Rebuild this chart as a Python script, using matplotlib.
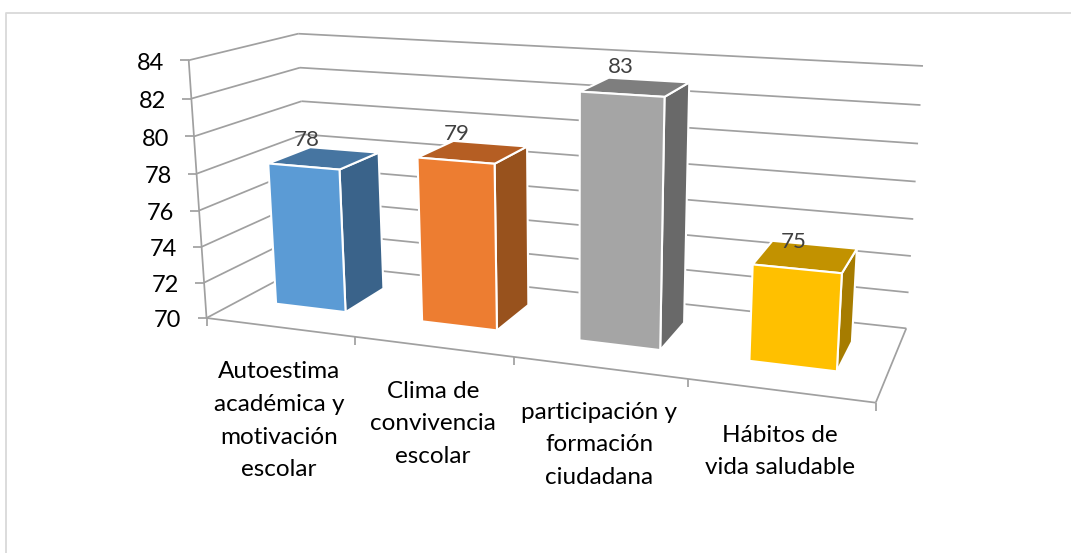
import matplotlib
matplotlib.use('Agg')
import matplotlib.pyplot as plt
from matplotlib.patches import Polygon
import numpy as np

categories = ['Autoestima\nacadémica y\nmotivación\nescolar', 'Clima de\nconvivencia\nescolar',
              'participación y\nformación\nciudadana', 'Hábitos de\nvida saludable']
values = [78, 79, 83, 75]
ticks = [70, 72, 74, 76, 78, 80, 82, 84]
front_colors = ['#5B9BD5', '#ED7D31', '#A5A5A5', '#FFC000']
top_colors = ['#4675A1', '#B55E23', '#7E7E7E', '#C29200']
side_colors = ['#3A638A', '#98521D', '#696969', '#A67C00']

plt.rcParams['font.family'] = ['Lato', 'DejaVu Sans']

# corners of the 3d box in pixels, used to fit the camera
world = [(0, 0, 70), (0, 0, 84), (0, 1, 70), (0, 1, 84), (4, 0, 70), (4, 1, 70), (4, 1, 84)]
pixels = [(206, 317), (189, 61), (310, 264), (298, 33), (876, 403), (906, 328), (923, 66)]

rows = []
for (x, y, z), (u, v) in zip(world, pixels):
    h = [x, y, (z - 70) / 14, 1]
    rows.append(h + [0, 0, 0, 0] + [-u * c for c in h])
    rows.append([0, 0, 0, 0] + h + [-v * c for c in h])
cam = np.linalg.svd(np.array(rows, dtype=float))[2][-1].reshape(3, 4)


def proj(x, y, z):
    p = cam @ np.array([x, y, (z - 70) / 14, 1.0])
    return p[0] / p[2], p[1] / p[2]


fig = plt.figure(figsize=(10.71, 5.53), dpi=100)
ax = fig.add_axes([0, 0, 1, 1])
ax.set_xlim(0, 1071)
ax.set_ylim(553, 0)
ax.axis('off')

grid = '#A0A0A0'
lw = 1.25


def line(a, b):
    ax.plot([a[0], b[0]], [a[1], b[1]], color=grid, lw=lw, solid_capstyle='butt', zorder=1)


ax.plot([6, 6, 1071], [553, 13, 13], color='#D9D9D9', lw=1.3, zorder=0)

for t in ticks:
    line(proj(0, 0, t), proj(0, 1, t))
    line(proj(0, 1, t), proj(4, 1, t))
    p = proj(0, 0, t)
    line((p[0] - 9, p[1]), p)
    ax.text(p[0] - 25, p[1] + 3, str(t), ha='right', va='center', fontsize=17, color='black')

line(proj(0, 0, 70), proj(0, 0, 84))
line(proj(0, 0, 70), proj(4, 0, 70))
line(proj(4, 0, 70), proj(4, 1, 70))
for i in range(5):
    p = proj(i, 0, 70)
    line(p, (p[0], p[1] + 8))

d0, d1 = 0.31, 0.72
for i, v in enumerate(values):
    x0, x1 = i + 0.25, i + 0.735
    top = [proj(x0, d0, v), proj(x1, d0, v), proj(x1, d1, v), proj(x0, d1, v)]
    front = [proj(x0, d0, 70), proj(x1, d0, 70), proj(x1, d0, v), proj(x0, d0, v)]
    side = [proj(x1, d0, 70), proj(x1, d1, 70), proj(x1, d1, v), proj(x1, d0, v)]
    for pts, c in [(side, side_colors[i]), (top, top_colors[i]), (front, front_colors[i])]:
        ax.add_patch(Polygon(pts, closed=True, facecolor=c, edgecolor='white', lw=1.5, zorder=3 + i))
    lx = proj((x0 + x1) / 2, d0 + 0.1, v)[0] - 7.5
    ly = proj((x0 + x1) / 2, d0, v)[1] - 27
    ax.text(lx, ly, str(v), ha='center', va='center', fontsize=16, color='#404040', zorder=10)

for i, c in enumerate(categories):
    p = proj(i + 0.5, 0, 70)
    ax.text(p[0], p[1] + 34, c, ha='center', va='top', fontsize=17.5, color='black', linespacing=1.69)

fig.savefig('out.png', dpi=100)
